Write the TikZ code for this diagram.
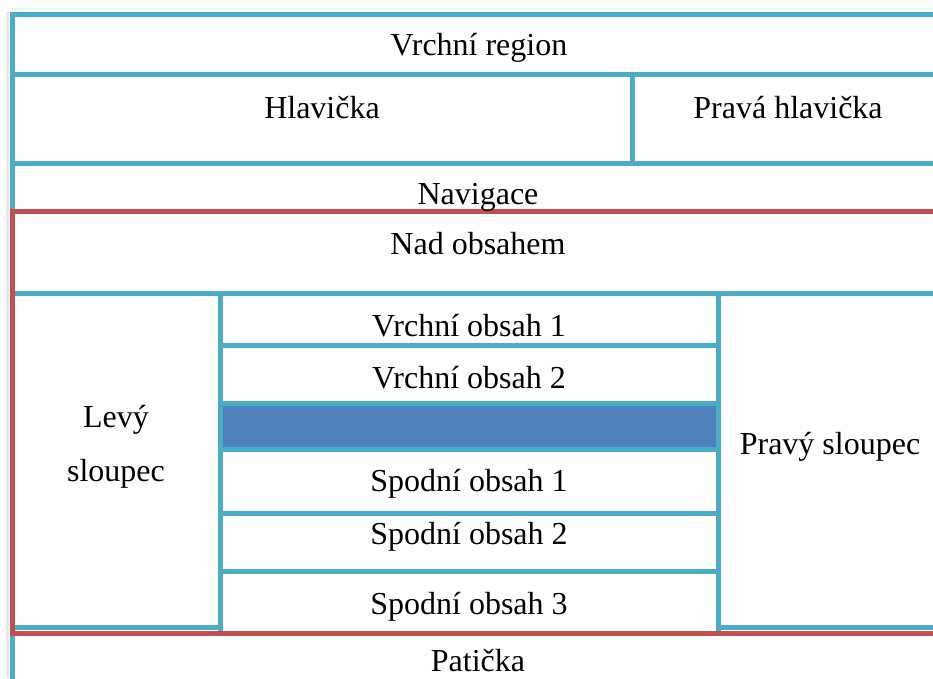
\documentclass[tikz,border=0pt]{standalone}
\usepackage{fontspec}
\setmainfont{Liberation Serif}
\definecolor{frameteal}{HTML}{4BACC6}
\definecolor{framered}{HTML}{C0504D}
\definecolor{bandblue}{HTML}{4F81BD}
\begin{document}
\begin{tikzpicture}[x=1pt,y=-1pt,
  tealline/.style={draw=frameteal,line width=5pt,line cap=rect},
  redline/.style={draw=framered,line width=5pt,line join=miter},
  shadowline/.style={draw=black!9,line width=3pt},
  lbl/.style={anchor=base,inner sep=0pt,font=\fontsize{32}{38}\selectfont}]
\useasboundingbox (0,0) rectangle (933,678);
\fill[white] (0,0) rectangle (933,678);

% soft shadow along the outer frame
\draw[shadowline] (7,12) -- (7,678);
\draw[draw=black!5,line width=2pt] (10,9) -- (933,9);

% band between the upper and lower content blocks
\fill[bandblue] (222,405) rectangle (716,447);

% teal region frame
\draw[tealline] (12,678) -- (12,14) -- (933,14);
\draw[tealline] (12,74) -- (933,74);
\draw[tealline] (632,74) -- (632,163);
\draw[tealline] (12,163) -- (933,163);
\draw[tealline] (12,293) -- (933,293);
\draw[tealline] (220,293) -- (220,629);
\draw[tealline] (718,293) -- (718,629);
\draw[tealline] (12,627) -- (220,627);
\draw[tealline] (718,627) -- (933,627);
\foreach \yy in {345,403,449,513,571}
  \draw[tealline] (220,\yy) -- (718,\yy);

% red content frame
\draw[redline] (933,211) -- (12,211) -- (12,633) -- (933,633);

% labels
\node[lbl] (vrchni) at (479,55) {Vrchní region};
\node[lbl] (hlavicka) at (322,118) {Hlavička};
\node[lbl] (pravahl) at (788,118) {Pravá hlavička};
\node[lbl] (navigace) at (478,204) {Navigace};
\node[lbl] (nadobs) at (478,254) {Nad obsahem};
\node[lbl] (vobs1) at (469,336) {Vrchní obsah 1};
\node[lbl] (vobs2) at (469,388) {Vrchní obsah 2};
\node[lbl] (levy1) at (116,427) {Levý};
\node[lbl] (levy2) at (116,481) {sloupec};
\node[lbl] (pravy) at (830,454) {Pravý sloupec};
\node[lbl] (sobs1) at (469,491) {Spodní obsah 1};
\node[lbl] (sobs2) at (469,544) {Spodní obsah 2};
\node[lbl] (sobs3) at (469,614) {Spodní obsah 3};
\node[lbl] (paticka) at (478,671) {Patička};
\end{tikzpicture}
\end{document}
